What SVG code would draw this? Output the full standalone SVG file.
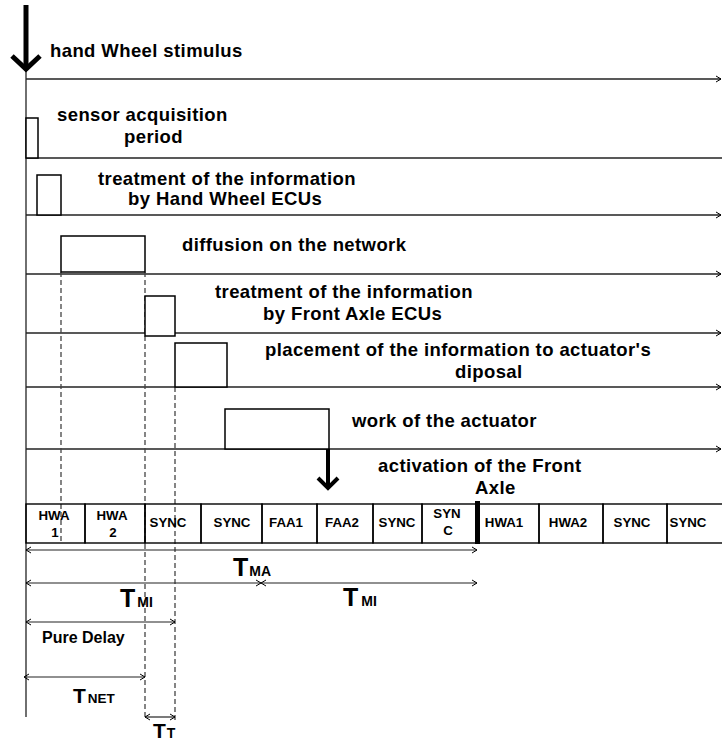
<svg xmlns="http://www.w3.org/2000/svg" width="722" height="743" viewBox="0 0 722 743">
<style>
text { font-family: "Liberation Sans", Arial, Helvetica, sans-serif; font-weight: bold; fill: #000; }
.lbl { font-size: 18.5px; letter-spacing: 0.4px; }
.cell { font-size: 13.3px; text-anchor: middle; }
.big { font-size: 25px; }
.sub { font-size: 14px; }
.mid { font-size: 21px; }
.tl { stroke: #222; stroke-width: 1.3; fill: none; }
.box { fill: #fff; stroke: #000; stroke-width: 1.5; }
.cellr { fill: none; stroke: #000; stroke-width: 1.4; }
.dash { stroke: #444; stroke-width: 1.3; stroke-dasharray: 5 3; fill: none; }
.dim { stroke: #222; stroke-width: 1.2; fill: none; }
.thick { stroke: #000; fill: none; stroke-linecap: butt; }
</style>
<defs>
<marker id="ah" markerWidth="8" markerHeight="8" refX="6" refY="4" orient="auto-start-reverse" markerUnits="userSpaceOnUse">
<path d="M1,1 L6,4 L1,7" fill="none" stroke="#000" stroke-width="1"/>
</marker>
</defs>

<g id="connectors">
<line class="tl" x1="26" y1="68" x2="26" y2="717"/>
<line class="tl" x1="26" y1="79" x2="721" y2="79" marker-end="url(#ah)"/>
<line class="tl" x1="26" y1="158" x2="722" y2="158"/>
<line class="tl" x1="26" y1="215" x2="721" y2="215" marker-end="url(#ah)"/>
<line class="tl" x1="26" y1="274" x2="721" y2="274" marker-end="url(#ah)"/>
<line class="tl" x1="26" y1="333" x2="721" y2="333" marker-end="url(#ah)"/>
<line class="tl" x1="26" y1="387" x2="721" y2="387" marker-end="url(#ah)"/>
<line class="tl" x1="26" y1="449" x2="721" y2="449" marker-end="url(#ah)"/>
<line class="thick" x1="26" y1="5" x2="26" y2="67" stroke-width="5"/>
<polyline class="thick" points="12,56 26,69 40,56" stroke-width="5"/>
<line class="thick" x1="328" y1="449" x2="328" y2="487" stroke-width="4"/>
<polyline class="thick" points="318,478 328,488 338,478" stroke-width="4"/>
<line class="dash" x1="61" y1="272" x2="61" y2="543"/>
<line class="dash" x1="145" y1="272" x2="145" y2="720"/>
<line class="dash" x1="175" y1="387" x2="175" y2="720"/>
<line class="dim" x1="26" y1="550" x2="477" y2="550" marker-start="url(#ah)" marker-end="url(#ah)"/>
<line class="dim" x1="26" y1="583" x2="261" y2="583" marker-start="url(#ah)" marker-end="url(#ah)"/>
<line class="dim" x1="261" y1="583" x2="477" y2="583" marker-start="url(#ah)" marker-end="url(#ah)"/>
<line class="dim" x1="26" y1="622" x2="175" y2="622" marker-start="url(#ah)" marker-end="url(#ah)"/>
<line class="dim" x1="24" y1="677" x2="145" y2="677" marker-start="url(#ah)" marker-end="url(#ah)"/>
<line class="dim" x1="145" y1="717" x2="175" y2="717" marker-start="url(#ah)" marker-end="url(#ah)"/>
</g>

<g id="stimulus"><text class="lbl" x="50" y="57">hand Wheel stimulus</text></g>
<g id="sensor">
<rect class="box" x="26" y="118" width="12" height="40"/>
<text class="lbl" x="57" y="121">sensor acquisition</text>
<text class="lbl" x="124" y="143">period</text>
</g>
<g id="treatHW">
<rect class="box" x="37" y="175" width="24" height="40"/>
<text class="lbl" x="98" y="185">treatment of the information</text>
<text class="lbl" x="128" y="205">by Hand Wheel ECUs</text>
</g>
<g id="diffusion">
<rect class="box" x="61" y="236" width="84" height="36"/>
<text class="lbl" x="182" y="251">diffusion on the network</text>
</g>
<g id="treatFA">
<rect class="box" x="145" y="296" width="30" height="40"/>
<text class="lbl" x="215" y="298">treatment of the information</text>
<text class="lbl" x="263" y="320">by Front Axle ECUs</text>
</g>
<g id="placement">
<rect class="box" x="175" y="343" width="52" height="44"/>
<text class="lbl" x="265" y="356">placement of the information to actuator's</text>
<text class="lbl" x="455" y="378">diposal</text>
</g>
<g id="work">
<rect class="box" x="225" y="409" width="104" height="40"/>
<text class="lbl" x="352" y="427">work of the actuator</text>
</g>
<g id="activation">
<text class="lbl" x="378" y="472">activation of the Front</text>
<text class="lbl" x="475" y="494">Axle</text>
</g>

<g id="timeline">
<rect class="cellr" x="26" y="504" width="59" height="39"/>
<rect class="cellr" x="85" y="504" width="60" height="39"/>
<rect class="cellr" x="145" y="504" width="56" height="39"/>
<rect class="cellr" x="201" y="504" width="61" height="39"/>
<rect class="cellr" x="262" y="504" width="55" height="39"/>
<rect class="cellr" x="317" y="504" width="56" height="39"/>
<rect class="cellr" x="373" y="504" width="49" height="39"/>
<rect class="cellr" x="422" y="504" width="55" height="39"/>
<rect class="cellr" x="477" y="504" width="62" height="39"/>
<rect class="cellr" x="539" y="504" width="64" height="39"/>
<rect class="cellr" x="603" y="504" width="64" height="39"/>
<rect class="cellr" x="667" y="504" width="60" height="39"/>
<rect x="475" y="501" width="5" height="43" fill="#000"/>
<text class="cell" x="54" y="520">HWA</text>
<text class="cell" x="55" y="537">1</text>
<text class="cell" x="112" y="520">HWA</text>
<text class="cell" x="113" y="537">2</text>
<text class="cell" x="168" y="527">SYNC</text>
<text class="cell" x="232" y="527">SYNC</text>
<text class="cell" x="286" y="527">FAA1</text>
<text class="cell" x="342" y="527">FAA2</text>
<text class="cell" x="397" y="527">SYNC</text>
<text class="cell" x="447" y="518">SYN</text>
<text class="cell" x="448" y="535">C</text>
<text class="cell" x="504" y="527">HWA1</text>
<text class="cell" x="568" y="527">HWA2</text>
<text class="cell" x="632" y="527">SYNC</text>
<text class="cell" x="688" y="527">SYNC</text>
</g>

<g id="labels">
<text x="233" y="576"><tspan class="big">T</tspan><tspan class="sub" dx="1">MA</tspan></text>
<text x="120" y="607"><tspan class="big">T</tspan><tspan class="sub" dx="2">MI</tspan></text>
<text x="343" y="606"><tspan class="big">T</tspan><tspan class="sub" dx="3">MI</tspan></text>
<text x="42" y="643" style="font-size:16px">Pure Delay</text>
<text x="73" y="703"><tspan class="mid">T</tspan><tspan class="sub" dx="2" style="font-size:13.5px">NET</tspan></text>
<text x="153" y="738"><tspan class="mid">T</tspan><tspan class="sub" dx="1">T</tspan></text>
</g>
</svg>
